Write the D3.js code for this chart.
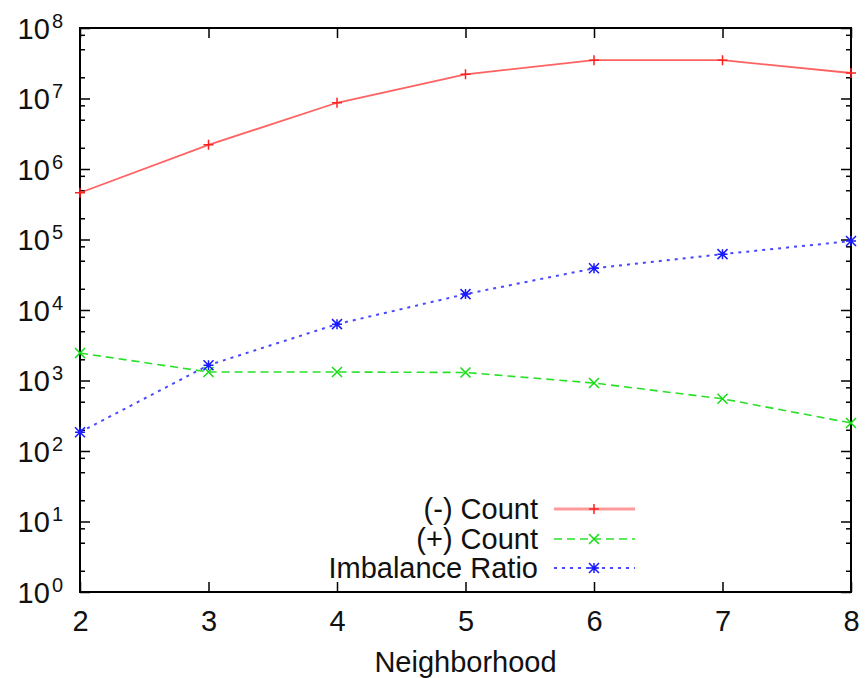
<!DOCTYPE html>
<html lang="en">
<head>
<meta charset="utf-8">
<title>Neighborhood counts</title>
<script src="https://cdn.jsdelivr.net/npm/d3@7/dist/d3.min.js"></script>
<style>
  body { margin: 0; background: #fff; }
  svg text { font-family: "Liberation Sans", Arial, sans-serif; fill: #111; }
  .axis path.domain { display: none; }
  .axis line { stroke: #000; stroke-width: 1.5px; }
</style>
</head>
<body>
<script>
// data
var neighborhood = [2, 3, 4, 5, 6, 7, 8];
var negCount  = [4.6e5, 2.2e6, 8.7e6, 2.2e7, 3.5e7, 3.5e7, 2.3e7];
var posCount  = [2450, 1320, 1320, 1300, 920, 550, 250];
var imbalance = [185, 1650, 6300, 16800, 39000, 62000, 95000];
var yExponents = [0, 1, 2, 3, 4, 5, 6, 7, 8];
var seriesNames = ["(-) Count", "(+) Count", "Imbalance Ratio"];

var width = 866, height = 678;
var margin = {left: 80, right: 15, top: 28, bottom: 86};
var fontSize = "29px";

var svg = d3.select("body").append("svg")
  .attr("width", width)
  .attr("height", height);

var x = d3.scaleLinear()
  .domain([2, 8])
  .range([margin.left, width - margin.right]);

var y = d3.scaleLog()
  .domain([1, 1e8])
  .range([height - margin.bottom, margin.top]);

var majors = yExponents.map(function(e) { return Math.pow(10, e); });
var minors = [];
yExponents.slice(0, -1).forEach(function(e) {
  [2, 5, 8].forEach(function(m) { minors.push(m * Math.pow(10, e)); });
});

// left axis with 10^n labels
var left = svg.append("g")
  .attr("class", "axis")
  .attr("transform", "translate(" + margin.left + ",0)")
  .call(d3.axisLeft(y).tickValues(majors).tickSize(-10).tickPadding(17));

left.selectAll("text")
  .style("font-size", fontSize)
  .attr("dy", "0.35em")
  .each(function(d) {
    var t = d3.select(this);
    t.text("");
    t.append("tspan").text("10");
    t.append("tspan")
      .attr("dx", "2")
      .attr("dy", "-0.55em")
      .style("font-size", "20px")
      .text(Math.round(Math.log10(d)));
  });

svg.append("g")
  .attr("class", "axis")
  .attr("transform", "translate(" + margin.left + ",0)")
  .call(d3.axisLeft(y).tickValues(minors).tickSize(-5).tickFormat(""));

// right mirror ticks
svg.append("g")
  .attr("class", "axis")
  .attr("transform", "translate(" + (width - margin.right) + ",0)")
  .call(d3.axisRight(y).tickValues(majors).tickSize(-10).tickFormat(""));
svg.append("g")
  .attr("class", "axis")
  .attr("transform", "translate(" + (width - margin.right) + ",0)")
  .call(d3.axisRight(y).tickValues(minors).tickSize(-5).tickFormat(""));

// bottom axis
var bottom = svg.append("g")
  .attr("class", "axis")
  .attr("transform", "translate(0," + (height - margin.bottom) + ")")
  .call(d3.axisBottom(x).tickValues(neighborhood).tickSize(-10).tickPadding(18).tickFormat(d3.format("d")));
bottom.selectAll("text").style("font-size", fontSize);

svg.append("g")
  .attr("class", "axis")
  .attr("transform", "translate(0," + margin.top + ")")
  .call(d3.axisTop(x).tickValues(neighborhood).tickSize(-10).tickFormat(""));

// frame
svg.append("rect")
  .attr("x", margin.left)
  .attr("y", margin.top)
  .attr("width", width - margin.left - margin.right)
  .attr("height", height - margin.top - margin.bottom)
  .attr("fill", "none")
  .attr("stroke", "#000")
  .attr("stroke-width", 2);

svg.append("text")
  .attr("x", (margin.left + width - margin.right) / 2)
  .attr("y", 672)
  .attr("text-anchor", "middle")
  .style("font-size", fontSize)
  .text("Neighborhood");

// marker shapes
function markerPath(kind, s) {
  var plus = "M" + (-s) + ",0H" + s + "M0," + (-s) + "V" + s;
  var cross = "M" + (-s) + "," + (-s) + "L" + s + "," + s + "M" + (-s) + "," + s + "L" + s + "," + (-s);
  if (kind === "plus") return plus;
  if (kind === "cross") return cross;
  return plus + cross;
}

var series = [
  {name: seriesNames[0], values: negCount,  color: "#ff2020", dash: null,  width: 1.8, opacity: 0.7, marker: "plus",  ms: 5},
  {name: seriesNames[1], values: posCount,  color: "#11dd11", dash: "8,5", width: 1.6, opacity: 0.9, marker: "cross", ms: 5},
  {name: seriesNames[2], values: imbalance, color: "#1a1aff", dash: "3,5", width: 2,   opacity: 0.8, marker: "star",  ms: 5}
];

var line = d3.line()
  .x(function(d) { return x(d[0]); })
  .y(function(d) { return y(d[1]); });

series.forEach(function(s) {
  var pts = neighborhood.map(function(n, i) { return [n, s.values[i]]; });
  svg.append("path")
    .datum(pts)
    .attr("d", line)
    .attr("fill", "none")
    .attr("stroke", s.color)
    .attr("stroke-width", s.width)
    .attr("stroke-opacity", s.opacity)
    .attr("stroke-dasharray", s.dash);
  svg.selectAll(null)
    .data(pts)
    .enter().append("path")
    .attr("transform", function(d) { return "translate(" + x(d[0]) + "," + y(d[1]) + ")"; })
    .attr("d", markerPath(s.marker, s.ms))
    .attr("fill", "none")
    .attr("stroke", s.color)
    .attr("stroke-width", 1.5);
});

// legend
var legendRows = [509, 539, 568];
series.forEach(function(s, i) {
  var ly = legendRows[i];
  svg.append("text")
    .attr("x", 538)
    .attr("y", ly)
    .attr("dy", "0.35em")
    .attr("text-anchor", "end")
    .style("font-size", fontSize)
    .text(s.name);
  svg.append("line")
    .attr("x1", 554).attr("x2", 635)
    .attr("y1", ly).attr("y2", ly)
    .attr("stroke", s.color)
    .attr("stroke-width", i === 0 ? 3 : s.width)
    .attr("stroke-opacity", i === 0 ? 0.45 : s.opacity)
    .attr("stroke-dasharray", s.dash);
  svg.append("path")
    .attr("transform", "translate(594," + ly + ")")
    .attr("d", markerPath(s.marker, s.ms))
    .attr("fill", "none")
    .attr("stroke", s.color)
    .attr("stroke-width", 1.5);
});
</script>
</body>
</html>
